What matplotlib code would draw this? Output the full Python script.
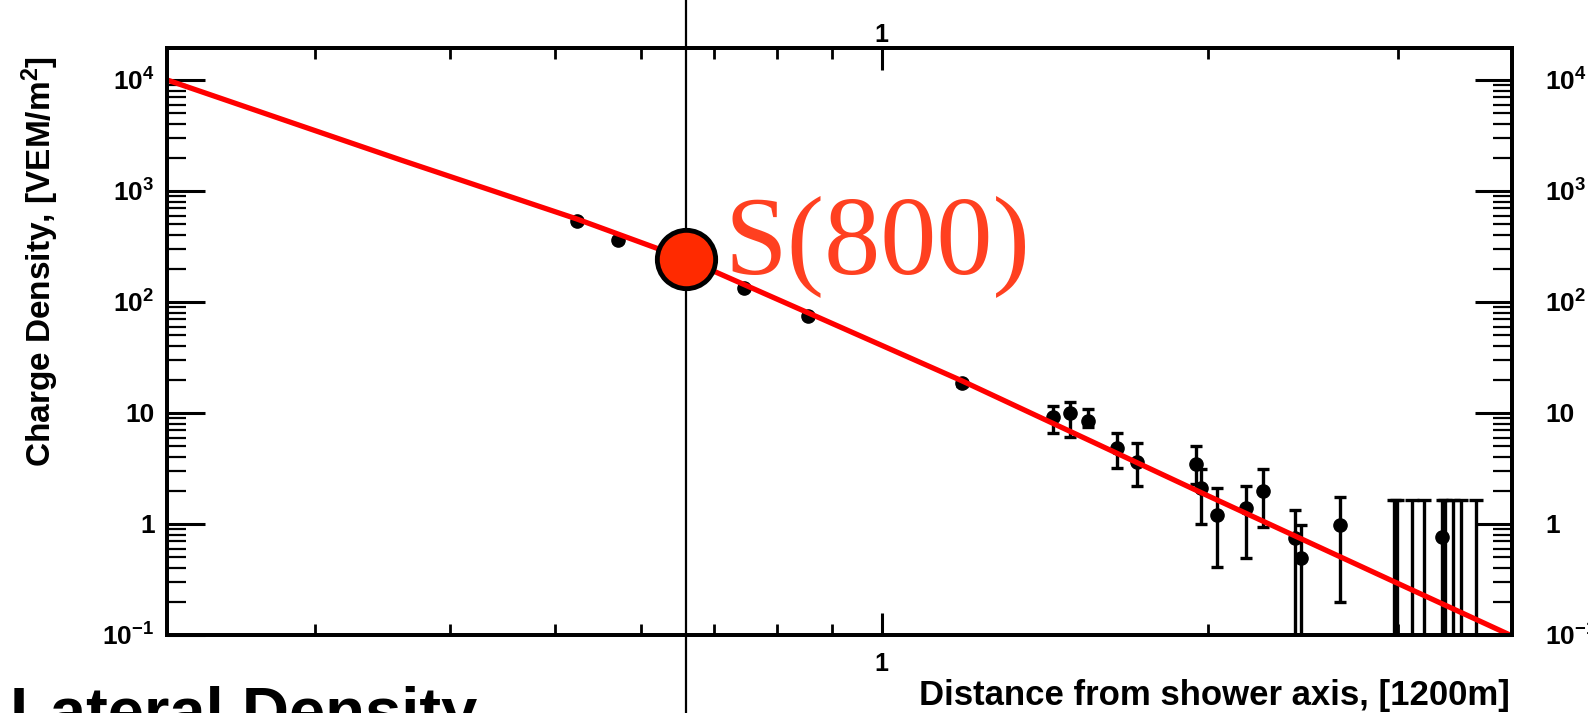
import numpy as np
import matplotlib
matplotlib.use('Agg')
import matplotlib.pyplot as plt
from matplotlib.ticker import FixedLocator, FixedFormatter, LogLocator, NullFormatter

plt.rcParams['font.family'] = ['Liberation Sans', 'DejaVu Sans']
plt.rcParams['font.weight'] = 'bold'
plt.rcParams['mathtext.fontset'] = 'custom'
plt.rcParams['mathtext.rm'] = 'Liberation Sans:bold'
plt.rcParams['mathtext.it'] = 'Liberation Sans:bold'
plt.rcParams['mathtext.bf'] = 'Liberation Sans:bold'

# 측정 스테이션: 거리 [1200m], 전하 밀도 [VEM/m^2], 오차 하한/상한
r_st = [0.523, 0.571, 0.746, 0.855, 1.186, 1.44, 1.494, 1.55, 1.65, 1.72,
        1.95, 1.97, 2.04, 2.17, 2.25, 2.41, 2.44, 2.65, 3.29]
s_st = [537, 362, 134, 75, 18.6, 9.2, 10.0, 8.5, 4.8, 3.6,
        3.5, 2.1, 1.2, 1.4, 2.0, 0.75, 0.49, 0.98, 0.76]
s_lo = [515, 348, 128, 72, 17.6, 6.6, 6.1, 7.5, 3.2, 2.2,
        2.3, 1.0, 0.41, 0.49, 0.94, 0.01, 0.01, 0.20, 0.01]
s_hi = [560, 376, 140, 78, 19.6, 11.6, 12.6, 10.9, 6.6, 5.4,
        5.0, 3.1, 2.1, 2.2, 3.1, 1.34, 0.98, 1.75, 1.64]

# 신호 없는 스테이션 (상한만)
r_lim = [2.97, 2.99, 3.09, 3.17, 3.31, 3.37, 3.43, 3.54]
s_lim = [1.64, 1.64, 1.64, 1.64, 1.64, 1.64, 1.64, 1.64]

# LDF 피팅 곡선
r_fit = [0.219, 0.36, 0.523, 0.66, 0.855, 1.186, 2.0, 3.0, 3.82]
s_fit = [10000, 1900, 560, 244, 80, 19.5, 1.8, 0.29, 0.098]

r800 = 0.66
s800 = 244

y_ticks = [0.1, 1, 10, 100, 1000, 10000]
y_labels = ['$10^{-1}$', '1', '10', '$10^{2}$', '$10^{3}$', '$10^{4}$']
x_ticks = [1]
x_labels = ['1']

xlim = (0.219, 3.82)
ylim = (0.1, 19400)

fig = plt.figure(figsize=(15.88, 7.13), dpi=100)
ax = fig.add_axes([0.1052, 0.1094, 0.847, 0.8233])
ax_t = ax.twiny()   # 위쪽 x축
ax_r = ax.twinx()   # 오른쪽 y축


def style_x(a, pad):
    a.set_xscale('log')
    a.set_xlim(*xlim)
    a.xaxis.set_major_locator(FixedLocator(x_ticks))
    a.xaxis.set_major_formatter(FixedFormatter(x_labels))
    a.xaxis.set_minor_locator(LogLocator(base=10, subs=np.arange(2, 10), numticks=50))
    a.xaxis.set_minor_formatter(NullFormatter())
    a.tick_params(axis='x', which='major', direction='in', length=16, width=2.2,
                  labelsize=18, pad=pad)
    a.tick_params(axis='x', which='minor', direction='in', length=8, width=2)


def style_y(a, pad):
    a.set_yscale('log')
    a.set_ylim(*ylim)
    a.yaxis.set_major_locator(FixedLocator(y_ticks))
    a.yaxis.set_major_formatter(FixedFormatter(y_labels))
    a.yaxis.set_minor_locator(LogLocator(base=10, subs=np.arange(2, 10), numticks=50))
    a.yaxis.set_minor_formatter(NullFormatter())
    a.tick_params(axis='y', which='major', direction='in', length=27, width=2.2,
                  labelsize=19, pad=pad)
    a.tick_params(axis='y', which='minor', direction='in', length=14, width=1.6)


style_x(ax, 12)
style_y(ax, 9)
style_x(ax_t, 1)
style_y(ax_r, 24)
ax.tick_params(top=False, right=False)
ax_t.tick_params(axis='x', which='both', top=True, bottom=False, labeltop=True, labelbottom=False)
ax_r.tick_params(axis='y', which='both', right=True, left=False, labelright=True, labelleft=False)
for a in (ax, ax_t, ax_r):
    for sp in a.spines.values():
        sp.set_linewidth(2.6)

# 데이터
yerr = [np.array(s_st) - np.array(s_lo), np.array(s_hi) - np.array(s_st)]
ax.errorbar(r_st, s_st, yerr=yerr, fmt='o', color='k', ms=9.5,
            elinewidth=2.4, capsize=4, capthick=2.4, zorder=3)
lim_err = [np.array(s_lim) - 0.01, np.zeros(len(s_lim))]
ax.errorbar(r_lim, s_lim, yerr=lim_err, fmt='none', ecolor='k',
            elinewidth=2.4, capsize=5, capthick=2.4, zorder=3)

ax.plot(r_fit, s_fit, color='#ff0000', lw=3.8, zorder=4, solid_capstyle='round')

# S(800)
ax.axvline(r800, ymin=-0.2, ymax=1.2, color='k', lw=1.6, clip_on=False, zorder=5)
ax.plot(r800, s800, 'o', ms=42, mfc='#ff2a00', mec='k', mew=3.5, zorder=6, clip_on=False)
fig.text(724 / 1588, 1 - 273 / 713, 'S(800)', family='Liberation Serif',
         fontweight='normal', fontsize=81, color='#ff4020', ha='left', va='baseline')

# 축 제목
fig.text(40 / 1588, 1 - 56 / 713, 'Charge Density, [VEM/m$^2$]', rotation=90,
         fontsize=24, ha='center', va='top')
fig.text(1510 / 1588, 1 - 696 / 713, 'Distance from shower axis, [1200m]',
         fontsize=25, ha='right', va='center')

fig.text(10 / 1588, -0.028, 'Lateral Density', fontsize=47, ha='left', va='baseline')

fig.savefig('out.png', dpi=100)
